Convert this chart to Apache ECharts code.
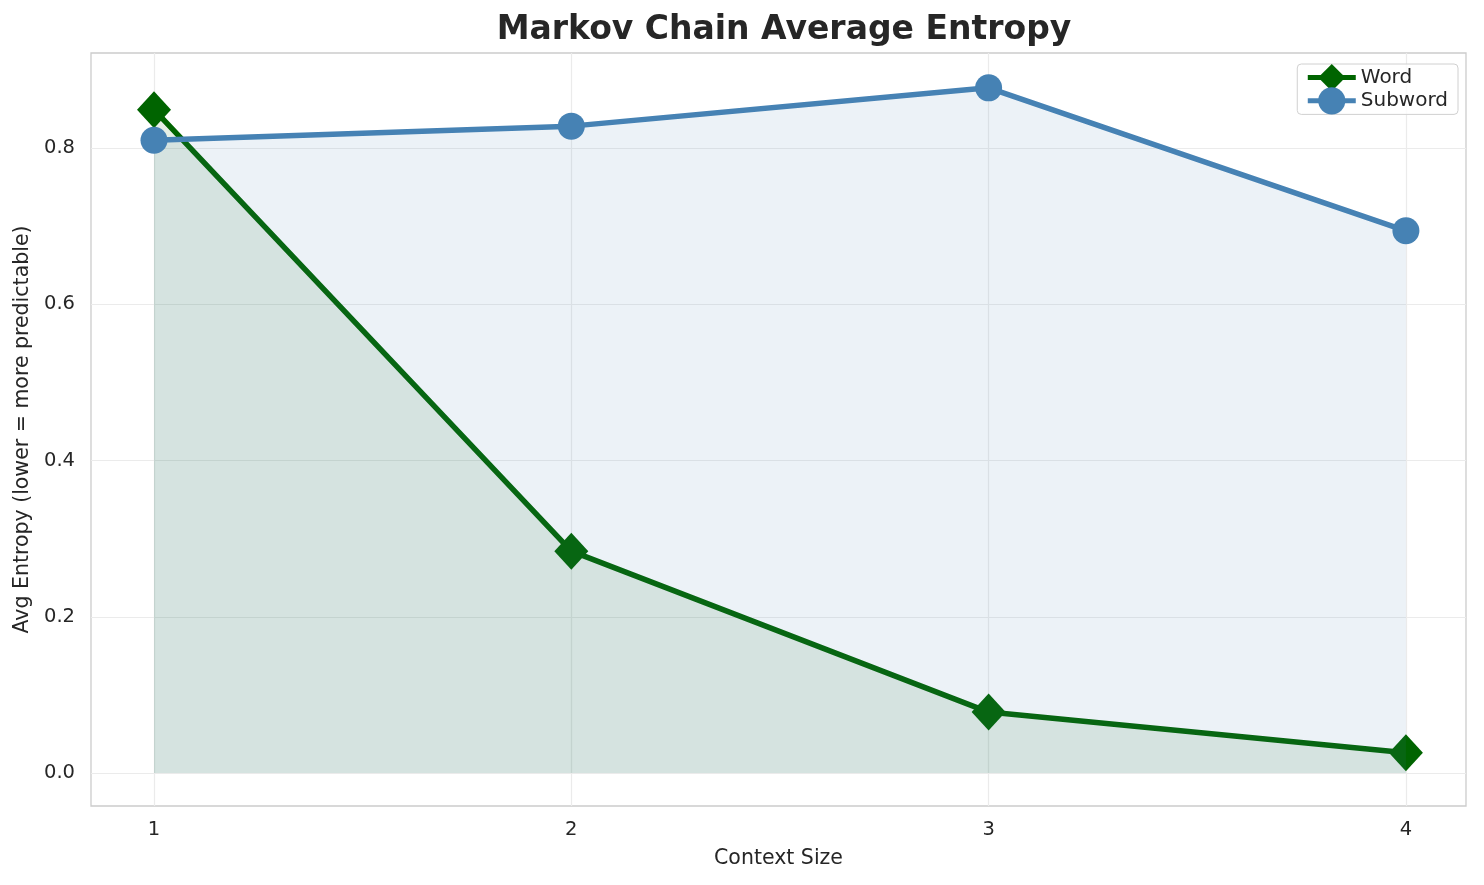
<!DOCTYPE html>
<html>
<head>
<meta charset="utf-8">
<script src="https://cdn.jsdelivr.net/npm/echarts@6/dist/echarts.min.js"></script>
<style>
  html, body { margin: 0; padding: 0; background: #fff; }
  #chart { width: 1484px; height: 885px; }
</style>
</head>
<body>
<div id="chart"></div>
<script>
const contextSizes = [1, 2, 3, 4];
const wordEntropy = [0.849, 0.284, 0.078, 0.026];
const subwordEntropy = [0.810, 0.828, 0.877, 0.694];
const yTicks = [0, 0.2, 0.4, 0.6, 0.8];

const FONT = 'DejaVu Sans';
const TEXT = '#262626';
const GRID = '#ebebeb';

const toPairs = (values) => contextSizes.map((x, i) => [x, values[i]]);

const chart = echarts.init(document.getElementById('chart'));

chart.setOption({
  animation: false,
  textStyle: { fontFamily: FONT },
  title: {
    text: 'Markov Chain Average Entropy',
    left: 779,
    textAlign: 'center',
    top: 9,
    textStyle: { fontFamily: FONT, fontSize: 33, fontWeight: 'bold', color: TEXT },
  },
  grid: {
    left: 91,
    right: 18,
    top: 53,
    bottom: 79,
    show: true,
    borderColor: '#cccccc',
    borderWidth: 1.3,
  },
  legend: {
    right: 26,
    top: 64,
    orient: 'vertical',
    itemWidth: 48,
    itemHeight: 34,
    itemGap: -4,
    padding: [0, 10, 0, 8],
    borderColor: '#d0d0d0',
    borderWidth: 1,
    borderRadius: 4,
    backgroundColor: 'rgba(255,255,255,0.8)',
    lineStyle: { width: 5 },
    textStyle: { fontFamily: FONT, fontSize: 20, color: TEXT },
    data: ['Word', 'Subword'],
  },
  xAxis: {
    type: 'value',
    min: 0.849,
    max: 4.144,
    name: 'Context Size',
    nameLocation: 'middle',
    nameGap: 42,
    nameTextStyle: { fontFamily: FONT, fontSize: 20.5, color: TEXT },
    axisLine: { show: false },
    axisTick: { show: true, length: 0, customValues: contextSizes, lineStyle: { color: 'transparent' } },
    axisLabel: {
      customValues: contextSizes,
      margin: 14,
      fontFamily: FONT,
      fontSize: 19.5,
      color: TEXT,
    },
    splitLine: { show: true, lineStyle: { color: GRID, width: 1.2 } },
  },
  yAxis: {
    type: 'value',
    min: -0.0422,
    max: 0.9216,
    name: 'Avg Entropy (lower = more predictable)',
    nameLocation: 'middle',
    nameGap: 57,
    nameTextStyle: { fontFamily: FONT, fontSize: 20.5, color: TEXT },
    axisLine: { show: false },
    axisTick: { show: true, length: 0, customValues: yTicks, lineStyle: { color: 'transparent' } },
    axisLabel: {
      customValues: yTicks,
      margin: 16,
      fontFamily: FONT,
      fontSize: 19.5,
      color: TEXT,
      formatter: (v) => v.toFixed(1),
    },
    splitLine: { show: true, lineStyle: { color: GRID, width: 1.2 } },
  },
  series: [
    {
      name: 'Word',
      type: 'line',
      data: toPairs(wordEntropy),
      symbol: 'diamond',
      symbolSize: [34, 37],
      lineStyle: { color: '#006400', width: 5.5 },
      itemStyle: { color: '#006400' },
      areaStyle: { color: '#006400', opacity: 0.1, origin: 0 },
      z: 3,
    },
    {
      name: 'Subword',
      type: 'line',
      data: toPairs(subwordEntropy),
      symbol: 'circle',
      symbolSize: 27,
      lineStyle: { color: '#4682b4', width: 5.5 },
      itemStyle: { color: '#4682b4' },
      areaStyle: { color: '#4682b4', opacity: 0.1, origin: 0 },
      z: 4,
    },
  ],
});
</script>
</body>
</html>
